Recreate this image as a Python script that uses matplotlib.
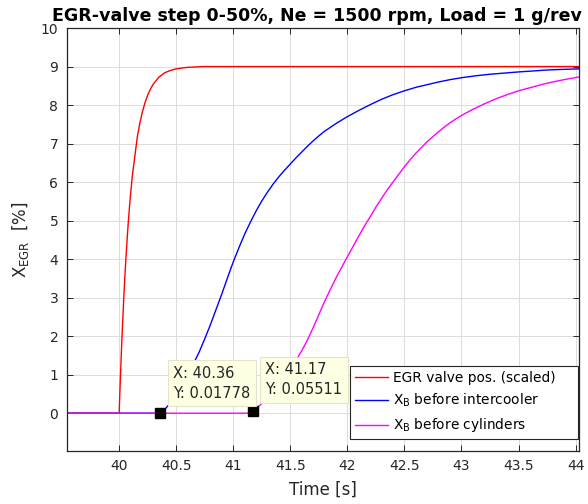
import matplotlib
matplotlib.use("Agg")
import matplotlib.pyplot as plt

plt.rcParams['font.family'] = ['DejaVu Sans']
plt.rcParams['mathtext.fontset'] = 'dejavusans'

# ---- data ----
t_valve = [39.54, 40.0, 40.005, 40.01, 40.02, 40.03, 40.04, 40.05, 40.06, 40.07,
           40.08, 40.09, 40.10, 40.115, 40.13, 40.145, 40.16, 40.18, 40.20, 40.225,
           40.25, 40.275, 40.30, 40.35, 40.40, 40.45, 40.50, 40.60, 40.75, 41.0, 44.03]
y_valve = [0, 0, 0.44, 0.86, 1.63, 2.33, 2.97, 3.54, 4.06, 4.53,
           4.96, 5.34, 5.69, 6.15, 6.50, 6.85, 7.19, 7.51, 7.78, 8.05,
           8.26, 8.42, 8.55, 8.73, 8.84, 8.90, 8.94, 8.98, 9.0, 9.0, 9.0]

t_ic = [39.54, 40.30, 40.33, 40.36, 40.40, 40.45, 40.50, 40.55, 40.60, 40.65,
        40.70, 40.75, 40.80, 40.85, 40.90, 40.95, 41.00, 41.05, 41.10, 41.15,
        41.20, 41.25, 41.30, 41.35, 41.40, 41.45, 41.50, 41.55, 41.60, 41.65,
        41.70, 41.75, 41.80, 41.85, 41.90, 41.95, 42.00, 42.10, 42.20, 42.30,
        42.40, 42.50, 42.60, 42.70, 42.80, 42.90, 43.00, 43.125, 43.25, 43.375,
        43.50, 43.625, 43.75, 43.875, 44.03]
y_ic = [0, 0, 0.002, 0.018, 0.1, 0.27, 0.5, 0.74, 1.0, 1.28,
        1.58, 1.93, 2.3, 2.7, 3.1, 3.52, 3.93, 4.3, 4.65, 4.96,
        5.25, 5.51, 5.74, 5.95, 6.14, 6.31, 6.47, 6.63, 6.78, 6.93,
        7.07, 7.2, 7.32, 7.42, 7.52, 7.61, 7.7, 7.86, 8.01, 8.15,
        8.27, 8.37, 8.46, 8.53, 8.6, 8.66, 8.71, 8.76, 8.8, 8.83,
        8.86, 8.885, 8.91, 8.925, 8.94]

t_cyl = [39.54, 41.10, 41.14, 41.17, 41.20, 41.25, 41.30, 41.35, 41.40, 41.45,
         41.50, 41.55, 41.60, 41.65, 41.70, 41.75, 41.80, 41.85, 41.90, 41.95,
         42.00, 42.05, 42.10, 42.15, 42.20, 42.25, 42.30, 42.35, 42.40, 42.45,
         42.50, 42.55, 42.60, 42.65, 42.70, 42.75, 42.80, 42.85, 42.90, 42.95,
         43.00, 43.10, 43.20, 43.30, 43.40, 43.50, 43.60, 43.70, 43.80, 43.90, 44.03]
y_cyl = [0, 0, 0.01, 0.055, 0.12, 0.25, 0.41, 0.59, 0.78, 0.97,
         1.17, 1.38, 1.62, 1.9, 2.22, 2.56, 2.9, 3.21, 3.51, 3.79,
         4.06, 4.33, 4.6, 4.86, 5.1, 5.35, 5.58, 5.8, 6.0, 6.2,
         6.4, 6.58, 6.75, 6.9, 7.05, 7.18, 7.31, 7.43, 7.54, 7.64,
         7.73, 7.89, 8.03, 8.16, 8.27, 8.37, 8.45, 8.53, 8.6, 8.66, 8.73]

tips_x = [40.36, 41.17]
tips_y = [0.01778, 0.05511]
tip_labels = ["X: 40.36\nY: 0.01778", "X: 41.17\nY: 0.05511"]

series_labels = ["EGR valve pos. (scaled)",
                 r"X$_{\mathregular{B}}$ before intercooler",
                 r"X$_{\mathregular{B}}$ before cylinders"]
x_ticks = [40, 40.5, 41, 41.5, 42, 42.5, 43, 43.5, 44]
x_ticklabels = ["40", "40.5", "41", "41.5", "42", "42.5", "43", "43.5", "44"]
y_ticks = list(range(0, 11))

# ---- figure ----
fig = plt.figure(figsize=(5.88, 5.04), dpi=100)
ax = fig.add_axes([0.1134, 0.1052, 0.9847 - 0.1134, 0.9444 - 0.1052])

ax.plot(t_valve, y_valve, color=(1, 0, 0), lw=1.0, label=series_labels[0])
ax.plot(t_ic, y_ic, color=(0, 0, 1), lw=1.0, label=series_labels[1])
ax.plot(t_cyl, y_cyl, color=(1, 0, 1), lw=1.0, label=series_labels[2])

ax.set_xlim(39.54, 44.03)
ax.set_ylim(-0.98, 10)
ax.set_xticks(x_ticks)
ax.set_xticklabels(x_ticklabels)
ax.set_yticks(y_ticks)

dark = (0.15, 0.15, 0.15)
ax.grid(True, color='#dcdcdc', lw=0.7)
ax.set_axisbelow(True)
ax.tick_params(direction='in', top=True, right=True, length=4, width=0.7,
               colors=dark, labelsize=10, pad=6)
for s in ax.spines.values():
    s.set_color(dark)
    s.set_linewidth(0.9)

ax.set_xlabel("Time [s]", fontsize=12, color=dark, labelpad=5)
ax.set_ylabel(r"$\mathregular{X_{EGR}}$  [%]", fontsize=12, color=dark, labelpad=7)
ax.set_title("EGR-valve step 0-50%, Ne = 1500 rpm, Load = 1 g/rev",
             fontsize=12.5, fontweight='bold', pad=5, x=0.488)

# data tips
offsets = [(9.5, 8.5), (9, 10)]
for x, y, lab, off in zip(tips_x, tips_y, tip_labels, offsets):
    ax.plot([x], [y], marker='s', color='black', ms=7, zorder=6)
    ax.annotate(lab, xy=(x, y), xytext=off, textcoords='offset points',
                ha='left', va='bottom', fontsize=10.5, color=dark,
                linespacing=1.4, zorder=7,
                bbox=dict(boxstyle='square,pad=0.38', fc='#ffffe3',
                          ec='#e4e4c8', lw=0.8))

handles, labels = ax.get_legend_handles_labels()
labels[0] = labels[0] + "    "
leg = ax.legend(handles, labels, loc='lower right', bbox_to_anchor=(0.998, 0.028),
                borderaxespad=0, fontsize=9.9, fancybox=False, framealpha=1,
                edgecolor=dark, handlelength=2.4, handletextpad=0.35,
                labelspacing=0.5, borderpad=0.35)
leg.get_frame().set_linewidth(0.8)
leg.set_zorder(8)

fig.savefig("out.png", dpi=100)
